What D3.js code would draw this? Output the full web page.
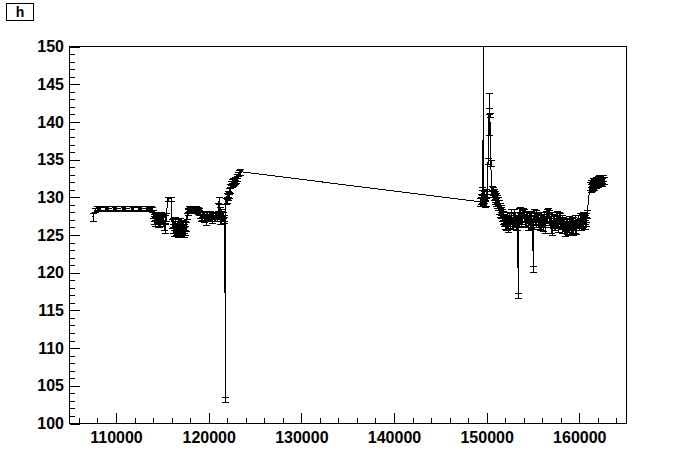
<!DOCTYPE html>
<html><head><meta charset="utf-8">
<script src="https://cdn.jsdelivr.net/npm/d3@7"></script>
<style>body{margin:0;background:#fff}</style>
</head><body>
<svg id="c" width="696" height="472"></svg>
<script>
// ---- data: [run, value, error] ----
const plateau = [
 [107500,127.4,0.5],[107750,128.3,0.3],[107900,128.6,0.3],[108000,128.5,0.3],[108100,128.6,0.3],[108200,128.5,0.3],[108300,128.6,0.3],
 [108800,128.6,0.3],[108900,128.5,0.3],[109000,128.6,0.3],[109100,128.5,0.3],[109700,128.6,0.3],[109800,128.5,0.3],[109900,128.6,0.3],[110000,128.5,0.3],
 [110700,128.6,0.3],[110800,128.5,0.3],[110900,128.6,0.3],[111000,128.5,0.3],[111600,128.6,0.3],[111700,128.5,0.3],[111800,128.6,0.3],
 [112400,128.6,0.3],[112500,128.5,0.3],[112600,128.6,0.3],[112700,128.5,0.3],[113200,128.5,0.3],[113300,128.6,0.3],[113400,128.5,0.3],
 [113500,128.6,0.3],[113600,128.5,0.3],[113700,128.6,0.3],[113800,128.5,0.3],[113900,128.4,0.3]
];
const earlyDip = [
 [114000,127.8,0.5],[114060,127.3,0.5],[114120,127.0,0.5],[114180,127.5,0.5],[114240,126.8,0.6],[114300,127.3,0.5],[114360,126.9,0.5],
 [114420,127.4,0.5],[114480,126.7,0.6],[114540,127.2,0.5],[114600,126.6,0.6],[114660,127.1,0.5],[114720,127.4,0.5],[114780,126.8,0.6],
 [114840,127.0,0.5],[114900,127.5,0.5],[114960,126.9,0.5],[115020,127.3,0.5],[115100,126.9,0.5],[115180,126.2,0.6],[115260,125.9,0.6],
 [115340,127.1,0.5],[115420,127.4,0.5],[115600,129.8,0.3],[115950,129.8,0.3],
 [116050,126.5,0.6],[116110,125.8,0.6],[116170,126.6,0.6],[116230,125.5,0.6],[116290,126.3,0.6],[116350,125.9,0.6],[116410,126.8,0.6],
 [116470,125.6,0.6],[116530,126.2,0.6],[116590,125.7,0.6],[116650,126.5,0.6],[116710,125.4,0.6],[116770,126.0,0.6],[116830,125.8,0.6],
 [116890,126.6,0.6],[116950,125.5,0.6],[117010,126.1,0.6],[117070,125.7,0.6],[117130,126.4,0.6],[117190,125.6,0.6],[117250,126.2,0.6],
 [117310,125.4,0.6],[117370,125.9,0.6],[117430,126.3,0.6],[117490,125.6,0.6],[117550,126.1,0.6]
];
const midRun = [
 [117650,127.5,0.4],[117720,128.0,0.4],[117780,128.3,0.3],[117840,128.5,0.3],[117900,128.2,0.3],[117960,128.4,0.3],[118020,128.6,0.3],
 [118080,128.3,0.3],[118140,128.5,0.3],[118200,128.2,0.3],[118260,128.4,0.3],[118320,128.6,0.3],[118380,128.3,0.3],[118440,128.5,0.3],
 [118500,128.2,0.3],[118560,128.4,0.3],[118620,128.3,0.3],[118680,128.5,0.3],[118740,128.2,0.3],[118800,128.4,0.3],[118860,128.1,0.3],
 [118920,128.3,0.3],[118980,128.0,0.3],[119040,127.9,0.3],
 [119100,127.7,0.4],[119170,127.3,0.4],[119240,127.8,0.4],[119310,127.4,0.4],[119380,127.6,0.4],[119450,127.1,0.4],[119520,127.7,0.4],
 [119590,127.3,0.4],[119660,127.0,0.7],[119730,127.6,0.4],[119800,127.4,0.4],[119870,127.8,0.4],[119940,127.2,0.4],[120010,127.6,0.4],
 [120080,127.4,0.4],[120150,127.8,0.4],[120220,127.3,0.4],[120290,127.6,0.4],[120360,127.1,0.5],[120430,127.5,0.4],[120500,127.7,0.4],
 [120570,127.2,0.4],[120640,127.6,0.4],[120710,127.3,0.4],[120780,127.5,0.4],[120850,127.2,0.4],[120920,127.6,0.4],
 [121000,127.8,0.4],[121060,128.6,0.6],[121120,129.6,0.5],[121180,127.2,0.8],[121240,128.2,0.5],[121300,127.0,0.5],[121360,128.0,0.5],
 [121420,127.3,0.4],[121480,127.8,0.4],[121540,127.2,0.4],[121600,127.6,0.4],[121660,127.0,0.4],[121700,127.3,0.4],
 [121770,116.3,0],[121810,103.2,0.3],[121870,129.5,0.4]
];
const riseRun = [
 [121930,130.2,0.4],[121990,129.7,0.4],[122050,130.5,0.4],[122110,130.0,0.4],[122170,130.8,0.4],[122230,130.3,0.4],[122290,131.0,0.4],
 [122350,131.5,0.3],[122410,131.9,0.3],[122470,131.6,0.3],[122530,132.1,0.3],[122590,131.8,0.3],[122650,132.2,0.3],[122710,131.9,0.3],
 [122770,132.3,0.3],[122830,132.0,0.3],[122890,132.4,0.3],[122950,132.2,0.3],[123010,132.5,0.3],[123100,132.8,0.3],[123200,133.1,0.3],
 [123300,133.3,0.3],[123400,133.4,0.4]
];
const spikeRun = [
 [149300,129.4,0.5],[149350,130.0,0.5],[149400,129.6,0.5],[149450,130.5,0.5],[149500,129.8,0.5],[149550,130.9,0.5],[149600,129.5,0.5],
 [149650,170.0,1.0],[149700,129.8,0.5],[149750,130.3,0.5],[149800,129.2,0.5],[149850,130.0,0.5],[149900,129.4,0.5],[149950,130.6,0.5],
 [150050,130.5,0.4],[150150,134.8,0.4],[150250,141.0,2.8],[150300,141.5,0.4],[150350,140.9,0.3],[150450,134.5,0.4],[150550,130.5,0.5],
 [150600,131.0,0.5],[150650,130.5,0.5],[150700,130.8,0.5],[150750,130.2,0.5],[150800,130.6,0.5],[150850,129.9,0.5],[150900,130.3,0.5],
 [150950,129.6,0.5],[151000,130.1,0.5],[151050,129.4,0.5],[151100,129.8,0.5],[151150,129.1,0.5],[151200,129.5,0.5],[151250,128.8,0.5],
 [151300,129.1,0.5],[151350,128.4,0.6],[151400,128.8,0.5],[151450,128.0,0.6],[151500,128.5,0.5],[151550,127.8,0.6],[151600,128.2,0.5],
 [151650,127.5,0.6],[151700,127.9,0.5],[151750,127.1,0.6],[151800,127.6,0.6],[151850,126.8,0.6],[151900,127.2,0.6],[151950,126.4,0.6],
 [152000,126.9,0.6],[152050,126.2,0.6]
];
const lateRun = [
 [152100,127.0,0.7],[152170,126.4,0.7],[152240,127.3,0.7],[152310,126.1,0.7],[152380,126.8,0.6],[152450,127.5,0.6],[152520,126.6,0.7],
 [152590,127.2,0.7],[152660,127.8,0.6],[152730,126.5,0.7],[152800,127.4,0.7],[152870,126.9,0.7],[152940,127.7,0.7],[153010,126.7,0.7],
 [153080,127.3,0.7],[153150,126.4,0.8],[153220,127.0,0.7],[153290,126.5,0.8],[153360,127.4,0.7],[153400,117.0,0.3],[153440,126.8,0.7],
 [153510,127.9,0.7],[153580,127.2,0.7],[153650,128.1,0.6],[153720,126.9,0.7],[153790,127.6,0.7],[153860,127.1,0.7],[153930,128.0,0.6],
 [154000,127.4,0.7],[154070,127.8,0.6],[154140,126.9,0.7],[154210,127.5,0.6],[154280,126.7,0.7],[154350,127.6,0.6],[154420,127.0,0.7],
 [154490,126.4,0.8],[154560,127.3,0.7],[154630,126.8,0.7],[154700,127.5,0.7],[154770,126.6,0.7],[154840,127.2,0.7],[154910,126.5,0.7],
 [154980,127.0,0.7],[155020,120.5,0.4],[155080,127.4,0.7],[155150,127.9,0.6],[155220,127.2,0.7],[155290,127.7,0.6],[155360,126.8,0.8],
 [155430,127.4,0.7],[155500,126.7,0.7],[155570,127.2,0.7],[155640,126.5,0.7],[155710,127.0,0.7],[155780,126.3,0.7],[155850,126.9,0.7],
 [155920,126.4,0.8],[155990,127.1,0.7],[156060,126.2,0.7],[156130,126.8,0.7],[156200,127.3,0.7],[156270,126.0,0.7],[156340,126.7,0.7],
 [156410,127.5,0.7],[156480,127.9,0.6],[156550,127.3,0.7],[156620,128.0,0.6],[156690,127.1,0.8],[156760,127.6,0.7],[156830,126.8,0.7],
 [156900,127.4,0.7],[156970,126.1,0.8],[157040,125.8,0.8],[157110,126.6,0.7],[157180,127.1,0.7],[157250,126.4,0.8],[157320,127.0,0.7],
 [157390,126.5,0.8],[157460,127.3,0.7],[157530,126.8,0.7],[157600,127.5,0.7],[157670,126.2,0.8],[157740,126.9,0.7],[157810,127.4,0.6],
 [157880,126.6,0.7],[157950,127.2,0.7],[158020,126.5,0.7],[158090,126.9,0.7],[158160,126.1,0.8],[158230,126.7,0.7],[158300,126.0,0.8],
 [158370,126.6,0.7],[158440,126.2,0.7],[158510,125.7,0.8],[158580,126.4,0.7],[158650,125.9,0.8],[158720,126.6,0.7],[158790,126.1,0.7],
 [158860,126.8,0.7],[158930,125.8,0.8],[159000,126.4,0.7],[159070,125.9,0.8],[159140,126.5,0.7],[159210,126.0,0.8],[159280,126.7,0.7],
 [159350,125.8,0.8],[159420,126.3,0.7],[159490,126.9,0.7],[159560,126.0,0.7],[159620,125.8,0.7]
];
const endRun = [
 [159850,126.5,0.6],[159910,127.1,0.6],[159970,126.3,0.6],[160030,127.3,0.6],[160090,126.6,0.6],[160150,127.0,0.6],[160210,126.2,0.6],
 [160270,127.2,0.6],[160330,126.5,0.6],[160390,127.4,0.6],[160450,126.7,0.6],[160510,127.1,0.6],[160570,126.4,0.6],[160630,127.0,0.6],
 [160690,126.8,0.6],[160750,127.3,0.6],[160850,127.8,0.5],
 [161150,131.5,0.5],[161220,131.2,0.5],[161290,131.8,0.5],[161360,131.4,0.5],[161430,132.0,0.5],[161500,131.6,0.5],[161570,131.9,0.5],
 [161640,131.5,0.5],[161710,132.1,0.5],[161780,131.7,0.5],[161850,132.2,0.5],[161920,131.8,0.5],[161990,132.3,0.5],[162060,131.9,0.5],
 [162130,132.4,0.5],[162200,132.0,0.5],[162270,132.5,0.5],[162340,132.1,0.5],[162410,132.4,0.5],[162480,132.0,0.5],[162550,132.5,0.4],
 [162620,132.2,0.5]
];
const xMajorTicks = [110000,120000,130000,140000,150000,160000];
const xMinorTicks = [106000,108000,112000,114000,116000,118000,122000,124000,126000,128000,132000,134000,136000,138000,142000,144000,146000,148000,152000,154000,156000,158000,162000,164000];
const yMajorTicks = [100,105,110,115,120,125,130,135,140,145,150];
const yMinorTicks = [101,102,103,104,106,107,108,109,111,112,113,114,116,117,118,119,121,122,123,124,126,127,128,129,131,132,133,134,136,137,138,139,141,142,143,144,146,147,148,149];
const titleText = "h";

// ---- layout ----
const L = 69.5, R = 626.5, T = 46.5, B = 423.5;
const FONT = "'Liberation Sans', Arial, Helvetica, sans-serif";
const svg = d3.select("#c");
const x = d3.scaleLinear().domain([104980, 165095]).range([L, R]);
const y = d3.scaleLinear().domain([100, 150]).range([B, T]);

svg.append("clipPath").attr("id","clip").append("rect")
  .attr("x", L).attr("y", T).attr("width", R-L).attr("height", B-T);

const pts = [].concat(plateau, earlyDip, midRun, riseRun, spikeRun, lateRun, endRun)
  .map(d => ({x:d[0], y:d[1], e:d[2]}));

const g = svg.append("g").attr("clip-path","url(#clip)");
g.append("path").datum(pts)
  .attr("d", d3.line().x(d => x(d.x)).y(d => y(d.y)))
  .attr("fill","none").attr("stroke","#000").attr("stroke-width",1)
  .attr("shape-rendering","crispEdges");
const eb = g.append("g").attr("stroke","#000").attr("stroke-width",1).attr("shape-rendering","crispEdges");
pts.filter(d => d.e > 0).forEach(d => {
  const cx = Math.round(x(d.x)) + 0.5;
  const y1 = Math.round(y(d.y - d.e)) + 0.5, y2 = Math.round(y(d.y + d.e)) + 0.5;
  eb.append("line").attr("x1",cx).attr("x2",cx).attr("y1",y1).attr("y2",y2);
  eb.append("line").attr("x1",cx-3.5).attr("x2",cx+3.5).attr("y1",y1).attr("y2",y1);
  eb.append("line").attr("x1",cx-3.5).attr("x2",cx+3.5).attr("y1",y2).attr("y2",y2);
});

const xAxis = svg.append("g").attr("transform",`translate(0,${B})`)
  .call(d3.axisBottom(x).tickValues(xMajorTicks).tickSize(-10.5).tickPadding(8).tickFormat(d3.format("d")));
const xAxisMinor = svg.append("g").attr("transform",`translate(0,${B})`)
  .call(d3.axisBottom(x).tickValues(xMinorTicks).tickSize(-5.5).tickFormat(""));
const yAxis = svg.append("g").attr("transform",`translate(${L},0)`)
  .call(d3.axisLeft(y).tickValues(yMajorTicks).tickSize(-10.5).tickPadding(5.5).tickFormat(d3.format("d")));
const yAxisMinor = svg.append("g").attr("transform",`translate(${L},0)`)
  .call(d3.axisLeft(y).tickValues(yMinorTicks).tickSize(-5.5).tickFormat(""));
[xAxis,xAxisMinor,yAxis,yAxisMinor].forEach(a => {
  a.select(".domain").remove();
  a.selectAll("line").attr("stroke","#000").attr("shape-rendering","crispEdges");
  a.selectAll("text").attr("font-family",FONT).attr("font-weight","bold").attr("font-size",16).attr("fill","#000");
});

svg.append("rect").attr("x",L).attr("y",T).attr("width",R-L).attr("height",B-T)
  .attr("fill","none").attr("stroke","#000").attr("shape-rendering","crispEdges");

svg.append("rect").attr("x",6.5).attr("y",3.5).attr("width",27).attr("height",17)
  .attr("fill","#fff").attr("stroke","#000").attr("shape-rendering","crispEdges");
svg.append("text").attr("x",20).attr("y",17).attr("text-anchor","middle")
  .attr("font-family",FONT).attr("font-weight","bold").attr("font-size",14).text(titleText);
</script>
</body></html>
